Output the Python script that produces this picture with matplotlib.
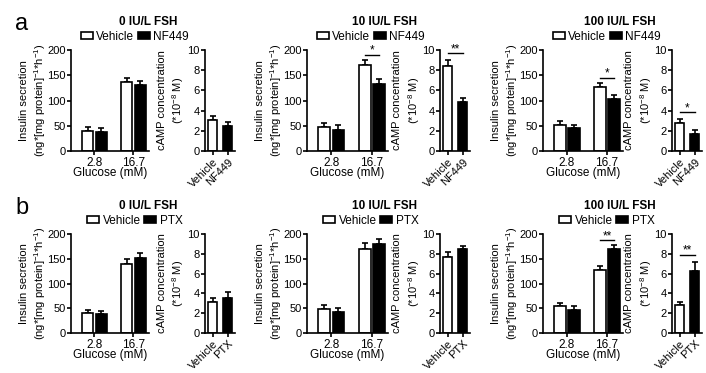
import matplotlib.pyplot as plt
from matplotlib.patches import Patch

plt.rcParams['font.family'] = ['Liberation Sans', 'DejaVu Sans']
plt.rcParams['font.size'] = 8
plt.rcParams['mathtext.fontset'] = 'custom'
plt.rcParams['mathtext.rm'] = 'Liberation Sans'
plt.rcParams['mathtext.it'] = 'Liberation Sans:italic'
plt.rcParams['mathtext.bf'] = 'Liberation Sans:bold'

W, H = 706, 373

glucose = ['2.8', '16.7']
fsh_titles = ['0 IU/L FSH', '10 IU/L FSH', '100 IU/L FSH']

# row a: Vehicle vs NF449
a_ins_veh = [[40, 136], [48, 171], [52, 126]]
a_ins_veh_err = [[7, 9], [8, 10], [8, 9]]
a_ins_trt = [[38, 130], [42, 133], [46, 103]]
a_ins_trt_err = [[8, 8], [9, 10], [6, 7]]
a_camp_veh = [3.1, 8.4, 2.8]
a_camp_veh_err = [0.4, 0.6, 0.35]
a_camp_trt = [2.5, 4.9, 1.7]
a_camp_trt_err = [0.4, 0.3, 0.4]
a_ins_sig = ['', '*', '*']
a_camp_sig = ['', '**', '*']

# row b: Vehicle vs PTX
b_ins_veh = [[40, 139], [48, 170], [54, 127]]
b_ins_veh_err = [[7, 10], [9, 12], [7, 8]]
b_ins_trt = [[38, 152], [43, 180], [47, 170]]
b_ins_trt_err = [[7, 9], [8, 10], [7, 7]]
b_camp_veh = [3.1, 7.7, 2.8]
b_camp_veh_err = [0.4, 0.5, 0.3]
b_camp_trt = [3.5, 8.5, 6.3]
b_camp_trt_err = [0.6, 0.3, 0.9]
b_ins_sig = ['', '', '**']
b_camp_sig = ['', '', '**']

ins_left = [71, 307, 543]
ins_width = [78, 81, 80]
camp_left = [205, 440, 672]
camp_width = [30, 30, 30]

ins_ylabel = 'Insulin secretion\n(ng*[mg protein]$^{-1}$*h$^{-1}$)'
camp_ylabel = 'cAMP concentration\n(*10$^{-8}$ M)'

fig = plt.figure(figsize=(W / 100, H / 100), dpi=100)


def style(ax):
    for s in ['top', 'right']:
        ax.spines[s].set_visible(False)
    for s in ['left', 'bottom']:
        ax.spines[s].set_linewidth(1.2)
    ax.tick_params(width=1.2, length=3, pad=1, labelsize=8)


def sig_mark(ax, x0, x1, y, txt, dy):
    ax.plot([x0, x1], [y, y], color='black', lw=1.0, clip_on=False)
    ax.text((x0 + x1) / 2, y + dy, txt, ha='center', va='bottom',
            fontsize=8.5, clip_on=False)


def row(top_px, bot_px, trt_name, ins_veh, ins_veh_err, ins_trt, ins_trt_err,
        camp_veh, camp_veh_err, camp_trt, camp_trt_err, ins_sig, camp_sig, letter):
    bottom = 1 - bot_px / H
    height = (bot_px - top_px) / H
    fig.text(22 / W, 1 - (top_px - 26) / H, letter, fontsize=17,
             ha='center', va='center')
    for g in range(3):
        ax = fig.add_axes([ins_left[g] / W, bottom, ins_width[g] / W, height])
        style(ax)
        xs = [0, 1]
        off, bw = 0.175, 0.29
        ax.bar([x - off for x in xs], ins_veh[g], bw, color='white',
               edgecolor='black', lw=1.2, zorder=2)
        ax.bar([x + off for x in xs], ins_trt[g], bw, color='black',
               edgecolor='black', lw=1.2, zorder=2)
        ax.errorbar([x - off for x in xs], ins_veh[g],
                    yerr=[[0, 0], ins_veh_err[g]], fmt='none', ecolor='black',
                    elinewidth=1.2, capsize=2.5, capthick=1.2, zorder=1)
        ax.errorbar([x + off for x in xs], ins_trt[g],
                    yerr=[[0, 0], ins_trt_err[g]], fmt='none', ecolor='black',
                    elinewidth=1.2, capsize=2.5, capthick=1.2, zorder=1)
        ax.set_xlim(-0.6, 1.4)
        ax.set_ylim(0, 200)
        ax.set_yticks([0, 50, 100, 150, 200])
        ax.set_xticks(xs)
        ax.set_xticklabels(glucose, fontsize=8.5)
        ax.set_xlabel('Glucose (mM)', fontsize=8.5, labelpad=-1)
        ax.set_ylabel(ins_ylabel, fontsize=8, linespacing=1.3)
        ax.yaxis.set_label_coords(-23 / ins_width[g], 0.5)
        if ins_sig[g]:
            top = max(ins_veh[g][1] + ins_veh_err[g][1],
                      ins_trt[g][1] + ins_trt_err[g][1])
            sig_mark(ax, 1 - off, 1 + off, top + 10, ins_sig[g], -4)

        handles = [Patch(facecolor='white', edgecolor='black', lw=1.2),
                   Patch(facecolor='black', edgecolor='black', lw=1.2)]
        fig.legend(handles, ['Vehicle', trt_name], loc='center', ncol=2,
                   frameon=False, fontsize=8.5, handlelength=1.0,
                   handleheight=0.5, handletextpad=0.3, columnspacing=0.3,
                   borderpad=0, bbox_to_anchor=((ins_left[g] + 64) / W,
                                                1 - (top_px - 13) / H))
        fig.text((ins_left[g] + 77) / W, 1 - (top_px - 28) / H, fsh_titles[g],
                 fontsize=8.5, fontweight='bold', ha='center', va='center')

        ax2 = fig.add_axes([camp_left[g] / W, bottom, camp_width[g] / W, height])
        style(ax2)
        ax2.bar([0], [camp_veh[g]], 0.65, color='white', edgecolor='black',
                lw=1.2, zorder=2)
        ax2.bar([1], [camp_trt[g]], 0.65, color='black', edgecolor='black',
                lw=1.2, zorder=2)
        ax2.errorbar([0, 1], [camp_veh[g], camp_trt[g]],
                     yerr=[[0, 0], [camp_veh_err[g], camp_trt_err[g]]],
                     fmt='none', ecolor='black', elinewidth=1.2, capsize=2.5,
                     capthick=1.2, zorder=1)
        ax2.set_xlim(-0.5, 1.5)
        ax2.set_ylim(0, 10)
        ax2.set_yticks([0, 2, 4, 6, 8, 10])
        ax2.set_xticks([0, 1])
        ax2.set_xticklabels(['Vehicle', trt_name], rotation=45, ha='right',
                            rotation_mode='anchor', fontsize=8)
        ax2.set_ylabel(camp_ylabel, fontsize=8, linespacing=1.3)
        ax2.yaxis.set_label_coords(-18.5 / camp_width[g], 0.5)
        if camp_sig[g]:
            top = max(camp_veh[g] + camp_veh_err[g],
                      camp_trt[g] + camp_trt_err[g])
            sig_mark(ax2, 0, 1, top + 0.7, camp_sig[g], -0.2)


row(50, 151, 'NF449', a_ins_veh, a_ins_veh_err, a_ins_trt, a_ins_trt_err,
    a_camp_veh, a_camp_veh_err, a_camp_trt, a_camp_trt_err,
    a_ins_sig, a_camp_sig, 'a')
row(234, 333, 'PTX', b_ins_veh, b_ins_veh_err, b_ins_trt, b_ins_trt_err,
    b_camp_veh, b_camp_veh_err, b_camp_trt, b_camp_trt_err,
    b_ins_sig, b_camp_sig, 'b')

fig.savefig('out.png', dpi=100)
